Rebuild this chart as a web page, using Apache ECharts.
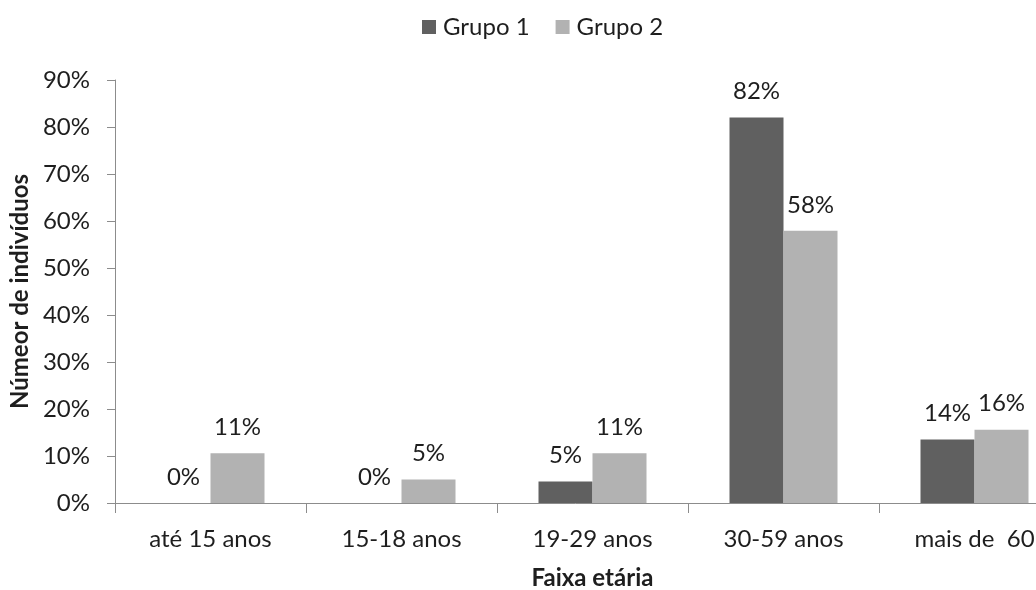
<!DOCTYPE html>
<html>
<head>
<meta charset="utf-8">
<script src="https://cdn.jsdelivr.net/npm/echarts@6/dist/echarts.min.js"></script>
<style>
html,body{margin:0;padding:0;background:#fff;}
#c{width:1036px;height:590px;}
</style>
</head>
<body>
<div id="c"></div>
<script>
const categories = ['até 15 anos', '15-18 anos', '19-29 anos', '30-59 anos', 'mais de  60'];
const grupo1 = [0, 0, 4.6, 82, 13.5];
const grupo2 = [10.6, 5, 10.6, 57.9, 15.6];
const yTicks = [0, 10, 20, 30, 40, 50, 60, 70, 80, 90];

const FONT = 'Lato, "Open Sans", sans-serif';
const TXT = '#1e1e1e';
const chart = echarts.init(document.getElementById('c'));
const labelCfg = {
  show: true, position: 'top', distance: 14,
  fontFamily: FONT, fontSize: 24, color: TXT,
  formatter: p => Math.round(p.value) + '%'
};
chart.setOption({
  animation: false,
  backgroundColor: '#fff',
  legend: {
    top: 10, left: 417,
    itemWidth: 14, itemHeight: 14, itemGap: 26,
    icon: 'rect',
    textStyle: {fontFamily: FONT, fontSize: 24, color: TXT, padding: [0, 0, 0, 2]},
    data: ['Grupo 1', 'Grupo 2']
  },
  grid: {left: 115, top: 80, bottom: 87, width: 955, outerBoundsMode: 'none', containLabel: false},
  xAxis: {
    type: 'category', data: categories,
    name: 'Faixa etária', nameLocation: 'middle', nameGap: 63,
    nameTextStyle: {fontFamily: FONT, fontSize: 24, fontWeight: 'bold', color: TXT},
    axisLine: {lineStyle: {color: '#8c8c8c', width: 1}},
    axisTick: {show: true, length: 10, lineStyle: {color: '#8c8c8c'}},
    axisLabel: {fontFamily: FONT, fontSize: 24, color: TXT, margin: 24, interval: 0, hideOverlap: false}
  },
  yAxis: {
    type: 'value', min: 0, max: 90, interval: 10,
    name: 'Númeor de indivíduos', nameLocation: 'middle', nameGap: 80,
    nameTextStyle: {fontFamily: FONT, fontSize: 24, fontWeight: 'bold', color: TXT},
    axisLine: {show: true, lineStyle: {color: '#8c8c8c', width: 1}},
    axisTick: {show: true, length: 8, lineStyle: {color: '#8c8c8c'}},
    splitLine: {show: false},
    axisLabel: {fontFamily: FONT, fontSize: 24, color: TXT, margin: 25,
      formatter: v => yTicks.includes(v) ? v + '%' : ''}
  },
  series: [
    {name: 'Grupo 1', type: 'bar', data: grupo1, barWidth: 54, barGap: '0%',
     itemStyle: {color: '#606060'}, label: labelCfg},
    {name: 'Grupo 2', type: 'bar', data: grupo2, barWidth: 54,
     itemStyle: {color: '#b2b2b2'}, label: labelCfg}
  ]
});
</script>
</body>
</html>
